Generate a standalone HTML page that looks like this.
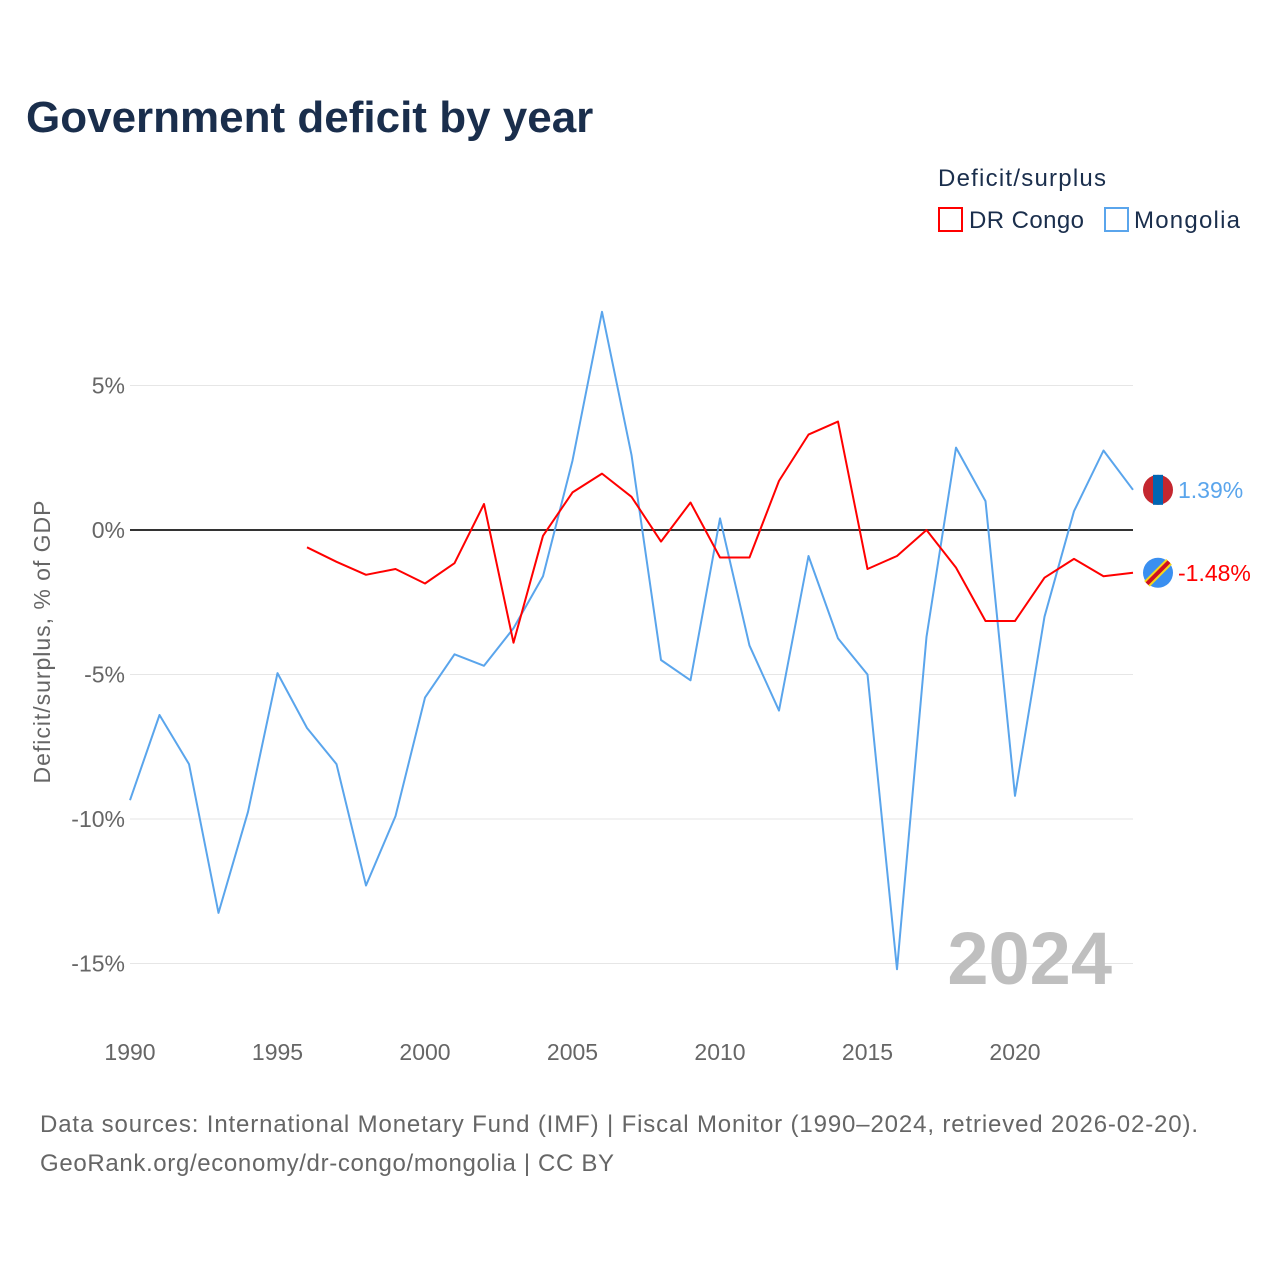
<!DOCTYPE html>
<html><head><meta charset="utf-8"><style>
body{margin:0;background:#fff;font-family:"Liberation Sans",sans-serif;}
svg text{font-family:"Liberation Sans",sans-serif;}
</style></head><body>
<svg width="1280" height="1280" viewBox="0 0 1280 1280">
<rect width="1280" height="1280" fill="#fff"/>
<text x="26" y="132" font-size="44" font-weight="bold" fill="#1a2e4c">Government deficit by year</text>
<text x="938" y="186" font-size="24" fill="#1a2e4c" textLength="168">Deficit/surplus</text>
<g><rect x="939" y="208" width="23" height="23" fill="none" stroke="#f00" stroke-width="2"/><text x="969" y="228" font-size="24" fill="#1a2e4c" textLength="115">DR Congo</text></g>
<g><rect x="1105" y="208" width="23" height="23" fill="none" stroke="#5aa5ec" stroke-width="2"/><text x="1134" y="228" font-size="24" fill="#1a2e4c" textLength="106">Mongolia</text></g>
<g id="grid"></g>
<g id="yticks"></g>
<g id="xticks"></g>
<text transform="translate(50,642) rotate(-90)" text-anchor="middle" font-size="23" fill="#666" textLength="283">Deficit/surplus, % of GDP</text>
<text x="1112" y="984" text-anchor="end" font-size="74" font-weight="bold" fill="#bfbfbf">2024</text>
<g id="series"></g>
<text x="40" y="1132" font-size="24" fill="#666" textLength="1158">Data sources: International Monetary Fund (IMF) | Fiscal Monitor (1990–2024, retrieved 2026-02-20).</text>
<text x="40" y="1171" font-size="24" fill="#666" textLength="574">GeoRank.org/economy/dr-congo/mongolia | CC BY</text>
</svg>
<script>
const years=[];for(let y=1990;y<=2024;y++)years.push(y);
const mongolia=[-9.35,-6.4,-8.1,-13.25,-9.75,-4.95,-6.85,-8.1,-12.3,-9.9,-5.8,-4.3,-4.7,-3.4,-1.6,2.4,7.55,2.6,-4.5,-5.2,0.4,-4.0,-6.25,-0.9,-3.75,-5.0,-15.2,-3.7,2.85,1.0,-9.2,-3.0,0.65,2.75,1.39];
const drcongo=[null,null,null,null,null,null,-0.6,-1.1,-1.55,-1.35,-1.85,-1.15,0.9,-3.9,-0.2,1.3,1.95,1.15,-0.4,0.95,-0.95,-0.95,1.7,3.3,3.75,-1.35,-0.9,0,-1.3,-3.15,-3.15,-1.65,-1.0,-1.6,-1.48];
const yTicks=[5,0,-5,-10,-15];
const xTicks=[1990,1995,2000,2005,2010,2015,2020];
const NS='http://www.w3.org/2000/svg';
const X=y=>130+(y-1990)*(1133-130)/34;
const Y=v=>530-v*28.9;
function mk(t,a,p){const e=document.createElementNS(NS,t);for(const k in a)e.setAttribute(k,a[k]);p.appendChild(e);return e;}
const grid=document.getElementById('grid'),yt=document.getElementById('yticks'),xt=document.getElementById('xticks'),ser=document.getElementById('series');
yTicks.forEach(v=>{
 const l=mk('line',{x1:130,x2:1133,y1:Y(v),y2:Y(v),stroke:v===0?'#333':'#e6e6e6','stroke-width':v===0?2:1},grid);
 
 
 const t=mk('text',{x:125,y:Y(v)+8,'text-anchor':'end','font-size':23,fill:'#666'},yt);t.textContent=v+'%';
 
 
});
xTicks.forEach(v=>{
 const t=mk('text',{x:X(v),y:1060,'text-anchor':'middle','font-size':23,fill:'#666'},xt);t.textContent=v;
 
 
});
function line(vals,color,name){
 let d='';vals.forEach((v,i)=>{if(v===null)return;d+=(d?'L':'M')+X(years[i]).toFixed(1)+','+Y(v).toFixed(1);});
 const p=mk('path',{d:d,fill:'none',stroke:color,'stroke-width':2,'stroke-linejoin':'round'},ser);
 
 
}
line(mongolia,'#5aa5ec','mongolia-line');
line(drcongo,'#f00','dr-congo-line');
function endLabel(vals,color,name,flag){
 const v=vals[vals.length-1],cy=Y(v),cx=1158;
 const g=mk('g',{},ser);
 
 
 if(flag==='mn'){mk('circle',{cx:cx,cy:cy,r:15,fill:'#c4272f'},g);mk('rect',{x:cx-5,y:cy-15,width:10,height:30,fill:'#0066b3'},g);}
 else{mk('circle',{cx:cx,cy:cy,r:15,fill:'#3a8ff0'},g);mk('line',{x1:cx-11,y1:cy+11,x2:cx+11,y2:cy-11,stroke:'#f7d618','stroke-width':8},g);mk('line',{x1:cx-11,y1:cy+11,x2:cx+11,y2:cy-11,stroke:'#ce1021','stroke-width':4},g);}
 const t=mk('text',{x:1178,y:cy+8,'font-size':23,fill:color},g);t.textContent=v.toFixed(2)+'%';
}
endLabel(mongolia,'#5aa5ec','mongolia-end-label','mn');
endLabel(drcongo,'#f00','dr-congo-end-label','cd');
</script>
</body></html>
